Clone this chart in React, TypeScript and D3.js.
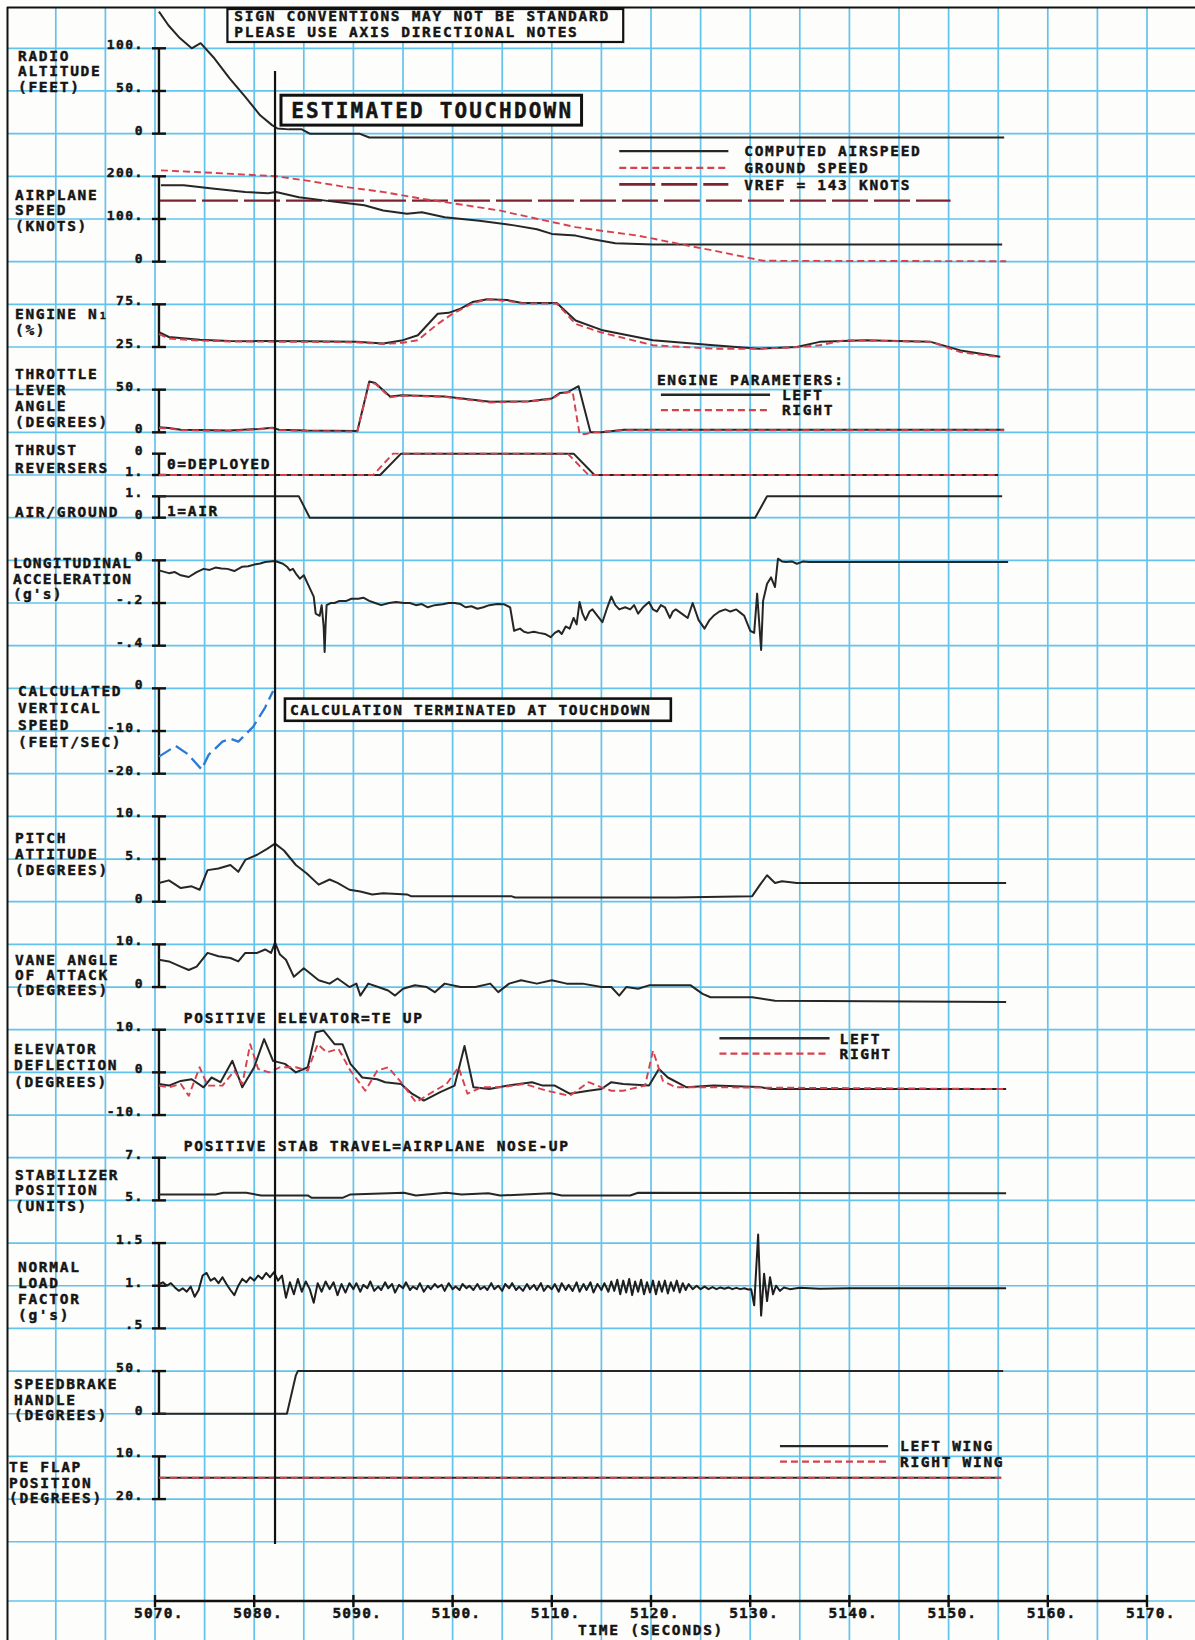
import * as d3 from 'd3';

type Pt = [number, number];
type Tick = [number, string];

const WIDTH = 1195;
const HEIGHT = 1640;
// chart paper rows: every axis tick sits on one of these blue lines
const ROW0 = 48.3;
const ROWH = 42.67;
const rowY = (r: number) => ROW0 + r * ROWH;
const AXIS_Y = 1601;

const xScale = d3.scaleLinear().domain([5070, 5170]).range([155, 1147]);
const AXIS_T = 5070.4;
const TOUCHDOWN_T = 5082.1;
const FONT = '"DejaVu Sans Mono", "Liberation Mono", monospace';

// ---- tick labels ----
const TIME_TICKS = [5070, 5080, 5090, 5100, 5110, 5120, 5130, 5140, 5150, 5160, 5170];
const ALT_TICKS: Tick[] = [[100, '100.'], [50, '50.'], [0, '0']];
const SPEED_TICKS: Tick[] = [[200, '200.'], [100, '100.'], [0, '0']];
const N1_TICKS: Tick[] = [[75, '75.'], [25, '25.']];
const TLA_TICKS: Tick[] = [[50, '50.'], [0, '0']];
const TR_TICKS: Tick[] = [[0, '0'], [1, '1.']];
const AG_TICKS: Tick[] = [[1, '1.'], [0, '0']];
const LA_TICKS: Tick[] = [[0, '0'], [-0.2, '-.2'], [-0.4, '-.4']];
const VS_TICKS: Tick[] = [[0, '0'], [-10, '-10.'], [-20, '-20.']];
const PITCH_TICKS: Tick[] = [[10, '10.'], [5, '5.'], [0, '0']];
const AOA_TICKS: Tick[] = [[10, '10.'], [0, '0']];
const ELEV_TICKS: Tick[] = [[10, '10.'], [0, '0'], [-10, '-10.']];
const STAB_TICKS: Tick[] = [[7, '7.'], [5, '5.']];
const NLF_TICKS: Tick[] = [[1.5, '1.5'], [1, '1.'], [0.5, '.5']];
const SB_TICKS: Tick[] = [[50, '50.'], [0, '0']];
const FLAP_TICKS: Tick[] = [[10, '10.'], [20, '20.']];

// ---- series (time s, value) ----
const RADIO_ALT: Pt[] = [[5070.4,143],[5071.35,127],[5072.5,112],[5073.7,100],[5074.6,106],[5076,88],[5077.5,65],[5079.1,43],[5080.6,21.5],[5081.8,10],[5082.35,6],[5083.5,5],[5084.8,5],[5085.6,0],[5090.6,0],[5091.6,-4.5],[5155.6,-4.5]];

const AIRSPEED: Pt[] = [[5070.6,179],[5072.9,179],[5076,171],[5079.1,163],[5081.4,160.5],[5082.2,163],[5084.5,151],[5087.2,143],[5089,138],[5091.1,132],[5093,120],[5095.4,112],[5096.9,116],[5099.2,104],[5102.7,96],[5106.2,85],[5108.5,76],[5110,65],[5112.4,61],[5114,53],[5116.4,43],[5120.2,40],[5155.4,40]];
const GROUND_SPEED: Pt[] = [[5070.6,214],[5076,208],[5082.2,200],[5085.3,190],[5089.2,175],[5093.1,163],[5097,147],[5100.8,134],[5104.7,120],[5108.6,100],[5112.4,81],[5114.8,73],[5118.7,61],[5122.5,43],[5126.3,26],[5131.3,2],[5155.8,1]];
const VREF: Pt[] = [[5070.5,143],[5150.2,143]];

const N1_LEFT: Pt[] = [[5070.4,42.5],[5071.4,36.7],[5074.5,33.6],[5077.5,32],[5085.3,31.6],[5090.3,31],[5093,29],[5095,33],[5096.5,38.7],[5098.5,64],[5099.6,65],[5100.8,70],[5102,77.7],[5103.5,81],[5105.5,80],[5107,76.6],[5110.5,76.6],[5112.4,56],[5115,45],[5120.2,33],[5126.3,27],[5130.9,23],[5134.7,25],[5137,31],[5141.6,33],[5148.2,31],[5151.2,21],[5155.2,13.5]];
const N1_RIGHT: Pt[] = [[5070.4,40],[5071.4,35],[5074.5,32.5],[5077.5,31.5],[5085.3,31],[5090.3,30.5],[5093,28.5],[5095,30],[5096.5,33],[5098.5,52],[5100,64],[5102,76],[5103.5,81],[5105.5,79],[5107,76],[5110.5,76],[5112.4,52],[5115,42],[5120.2,27],[5126.3,23],[5130.9,23],[5135,25],[5137,27],[5139.5,33],[5148.2,31],[5151.2,19],[5155.2,13]];

const TLA_LEFT: Pt[] = [[5070.4,6],[5071.4,5],[5072.6,3],[5077.5,2],[5080.5,4],[5081.8,5.5],[5082.5,3],[5085.3,2],[5090.4,1.5],[5091.6,59.6],[5092.2,57.7],[5093.7,42],[5094.9,43.5],[5099.2,42],[5103.8,35.7],[5107.7,36.5],[5110,39.6],[5110.8,46],[5111.6,47],[5112.7,54],[5113.9,0],[5115,0],[5117.3,3],[5155.6,3]];
const TLA_RIGHT: Pt[] = [[5070.4,5],[5071.4,4.5],[5072.6,2.5],[5077.5,1.5],[5080.5,3.5],[5081.8,5],[5082.5,2.5],[5085.3,1.5],[5090.4,1],[5091.6,58],[5092.2,57],[5093.7,41],[5094.9,43],[5099.2,41.5],[5103.8,35],[5107.7,36],[5110,39],[5110.8,45],[5111.6,47],[5112.1,47.5],[5112.8,-2],[5113.4,-2],[5114.2,0],[5117.3,2.5],[5155.6,2.5]];

const TR_LEFT: Pt[] = [[5070.4,1],[5092.7,1],[5094.8,0],[5112.2,0],[5114.3,1],[5155,1]];
const TR_RIGHT: Pt[] = [[5070.4,1],[5092,1],[5094,0],[5111.6,0],[5113.7,1],[5155,1]];

const AIR_GROUND: Pt[] = [[5070.4,1],[5084.5,1],[5085.6,0],[5130.5,0],[5131.7,1],[5155.4,1]];

const LONG_ACC: Pt[] = [[5070.4,-0.047],[5071.4,-0.06],[5072,-0.055],[5072.6,-0.07],[5073.4,-0.078],[5074.2,-0.055],[5074.9,-0.04],[5075.5,-0.045],[5076.1,-0.034],[5076.7,-0.038],[5077.3,-0.04],[5078,-0.05],[5078.8,-0.03],[5079.4,-0.028],[5080,-0.02],[5080.6,-0.015],[5081.1,-0.008],[5082.1,-0.003],[5082.9,-0.016],[5083.3,-0.03],[5083.6,-0.047],[5083.9,-0.04],[5084.2,-0.062],[5084.6,-0.086],[5085,-0.07],[5085.4,-0.11],[5086,-0.17],[5086.2,-0.25],[5086.6,-0.26],[5086.8,-0.21],[5087,-0.31],[5087.1,-0.43],[5087.2,-0.3],[5087.3,-0.21],[5087.7,-0.2],[5088.1,-0.2],[5088.6,-0.19],[5089.3,-0.19],[5089.8,-0.18],[5090.5,-0.18],[5091,-0.175],[5091.6,-0.19],[5092.2,-0.2],[5092.8,-0.21],[5093.6,-0.2],[5094.3,-0.195],[5095.1,-0.2],[5095.7,-0.2],[5096.3,-0.21],[5096.9,-0.205],[5097.5,-0.22],[5098.2,-0.21],[5099,-0.206],[5099.6,-0.2],[5100.2,-0.2],[5100.8,-0.205],[5101.3,-0.22],[5101.9,-0.215],[5102.5,-0.227],[5103.1,-0.22],[5103.7,-0.21],[5104.5,-0.205],[5105.2,-0.206],[5105.8,-0.22],[5106.2,-0.33],[5106.8,-0.32],[5107.2,-0.335],[5107.6,-0.34],[5108.2,-0.335],[5108.7,-0.34],[5109.3,-0.345],[5109.9,-0.36],[5110.3,-0.34],[5110.7,-0.33],[5111,-0.345],[5111.4,-0.31],[5111.8,-0.32],[5112.2,-0.27],[5112.5,-0.3],[5112.8,-0.195],[5113.1,-0.25],[5113.4,-0.28],[5113.8,-0.24],[5114.1,-0.23],[5114.6,-0.26],[5115.1,-0.29],[5115.6,-0.22],[5116,-0.17],[5116.4,-0.21],[5116.8,-0.23],[5117.4,-0.22],[5117.9,-0.23],[5118.3,-0.21],[5118.7,-0.25],[5119.2,-0.22],[5119.8,-0.195],[5120.2,-0.23],[5120.6,-0.24],[5121,-0.21],[5121.4,-0.22],[5121.9,-0.27],[5122.2,-0.24],[5122.5,-0.23],[5123.1,-0.25],[5123.7,-0.27],[5124.2,-0.2],[5124.8,-0.28],[5125.4,-0.32],[5125.9,-0.28],[5126.3,-0.26],[5126.9,-0.24],[5127.5,-0.23],[5128,-0.24],[5128.6,-0.23],[5129,-0.245],[5129.4,-0.26],[5130,-0.33],[5130.4,-0.34],[5130.7,-0.156],[5131.1,-0.42],[5131.3,-0.19],[5131.7,-0.11],[5132.1,-0.08],[5132.5,-0.125],[5132.8,0.008],[5133.2,-0.005],[5133.6,-0.008],[5134.2,-0.005],[5134.7,-0.016],[5135.3,-0.006],[5135.9,-0.008],[5137.8,-0.008],[5156,-0.008]];

const VERT_SPEED: Pt[] = [[5070.4,-16],[5072.1,-13.5],[5073.3,-15.4],[5074.7,-19],[5075.4,-15.6],[5076.8,-12.5],[5077.6,-11.8],[5078.4,-12.5],[5079.9,-9],[5081.1,-4.5],[5081.9,-0.6]];

const PITCH: Pt[] = [[5070.4,2.2],[5071.4,2.5],[5072.6,1.6],[5073.7,1.8],[5074.5,1.4],[5075.3,3.7],[5076.4,3.9],[5077.6,4.3],[5078.4,3.5],[5079.1,4.9],[5080.3,5.5],[5081.3,6.2],[5082.1,6.8],[5083,6],[5084.2,4.3],[5085.3,3.3],[5086.5,2],[5087.6,2.6],[5088.4,2.2],[5089.6,1.4],[5090.7,1.2],[5091.9,0.85],[5093,1],[5095.4,0.85],[5095.8,0.65],[5105.9,0.65],[5106.3,0.5],[5122.5,0.5],[5130.2,0.65],[5131,2],[5131.7,3.1],[5132.5,2.2],[5133.2,2.4],[5134.7,2.2],[5155.8,2.2]];

const AOA: Pt[] = [[5070.4,6.4],[5071.4,6],[5072.6,4.8],[5073.4,4],[5074.2,4.8],[5075.3,8],[5076.4,7.2],[5077.6,6.8],[5078.4,6],[5079.1,8],[5080.3,8],[5081.1,8.8],[5081.7,8],[5082.1,10.4],[5082.6,7.6],[5083.2,6.4],[5084,2.4],[5085,4.4],[5086.5,1.6],[5087.6,0.8],[5088.4,2],[5089.6,0],[5090.3,0.8],[5090.7,-2],[5091.5,0.8],[5092.5,0],[5093.5,-0.8],[5094.2,-2],[5095,-0.4],[5096.2,0.4],[5097.4,0],[5098.2,-1.2],[5099.2,0.8],[5100.8,0],[5102.3,0],[5103.8,0.8],[5104.6,-1.2],[5105.7,0.8],[5106.9,1.6],[5108.5,0.8],[5110,1.6],[5111.5,0.8],[5113.1,0.8],[5115,0],[5116,0],[5116.8,-2],[5117.5,0],[5118.7,-0.4],[5119.8,0.4],[5124,0.4],[5125.2,-1.6],[5126,-2.4],[5130.2,-2.4],[5132.5,-3.2],[5155.8,-3.5]];

const ELEV_LEFT: Pt[] = [[5070.4,-2.7],[5071.4,-3.1],[5072.6,-2],[5073.7,-1.6],[5074.9,-3.5],[5075.7,-1.2],[5076.6,-2.3],[5077.8,2.7],[5078.8,-3.5],[5080,1.2],[5081,7.8],[5081.9,2.7],[5083.1,2],[5084.2,0],[5085.4,1.2],[5086.2,9.4],[5087,9.8],[5088.1,6.6],[5088.9,6.6],[5089.7,2],[5090.9,-1.2],[5092.4,-1.6],[5093.2,-2.3],[5094.8,-2.7],[5095.9,-5],[5097.1,-6.6],[5098.7,-4.7],[5100.2,-3.1],[5101.2,6.2],[5102.1,-3.5],[5103.7,-3.9],[5105.6,-3.1],[5108,-2.3],[5109.1,-3.1],[5110.3,-3.1],[5111.8,-5],[5113.7,-4.3],[5115,-3.9],[5116,-2.3],[5117.2,-2.7],[5119.8,-3.1],[5120.8,0.8],[5121.7,-1.2],[5123.6,-3.5],[5126.3,-3.1],[5130.9,-3.4],[5132.1,-3.9],[5155.8,-3.9]];
const ELEV_RIGHT: Pt[] = [[5070.4,-3.1],[5071.4,-3.5],[5072.6,-2.7],[5073.4,-5.5],[5074.5,1.2],[5075.3,-3.1],[5076.8,-3.1],[5078,0.4],[5078.8,-2.7],[5079.6,6.6],[5080.4,0.8],[5081.5,0],[5082.6,1.2],[5084.2,1.2],[5085.4,0.4],[5086.4,6.6],[5087.3,4.7],[5088.5,5.5],[5089.7,0.4],[5091.2,-4.3],[5092.4,0.4],[5093.5,1.2],[5094.8,-2.3],[5096.3,-7],[5097.9,-4.7],[5099.4,-2.7],[5100.6,1.2],[5101.5,-5],[5102.9,-3.5],[5104.9,-3.5],[5107.2,-2.7],[5109.5,-4.3],[5111.8,-5.5],[5113.7,-2.3],[5115,-3.5],[5116,-4.3],[5117.2,-4.3],[5119.4,-3.1],[5120.2,5.1],[5121.2,-2],[5122.5,-3.5],[5126.3,-3.5],[5155.8,-3.9]];

const STAB: Pt[] = [[5070.4,5.28],[5076.1,5.28],[5076.9,5.36],[5079.2,5.36],[5080.7,5.23],[5085.4,5.23],[5085.8,5.12],[5088.9,5.12],[5089.7,5.28],[5095.1,5.36],[5096.3,5.23],[5099.4,5.36],[5100.9,5.28],[5103.6,5.33],[5104.8,5.23],[5109.9,5.33],[5111,5.23],[5117.9,5.23],[5118.7,5.36],[5155.8,5.33]];

const NLF: Pt[] = [[5070.4,1.02],[5070.8,1.04],[5071.2,1.0],[5071.6,1.03],[5072,0.98],[5072.4,0.94],[5072.8,0.97],[5073.2,0.93],[5073.6,0.99],[5074,0.87],[5074.4,0.95],[5074.8,1.12],[5075.2,1.15],[5075.6,1.06],[5076,1.09],[5076.4,1.03],[5076.8,1.1],[5077.2,1.02],[5077.6,0.95],[5078,0.89],[5078.4,1.0],[5078.8,1.08],[5079.2,1.04],[5079.6,1.1],[5080,1.06],[5080.4,1.12],[5080.8,1.08],[5081.2,1.15],[5081.6,1.1],[5082,1.16],
  [5082.4,1.06],[5082.8,1.12],[5083.2,0.86],[5083.6,1.04],[5084,0.9],[5084.4,1.08],[5084.8,0.93],[5085.2,1.05],[5085.6,0.96],[5086,0.8],[5086.4,1.03],[5086.8,0.93],[5087.2,1.05],[5087.6,0.96],[5088,1.04],[5088.4,0.89],[5088.8,1.02],[5089.2,0.92],[5089.6,1.03],
  [5090,0.96],[5090.3,1.03],[5090.7,0.93],[5091,1.01],[5091.4,0.97],[5091.7,1.05],[5092.1,0.94],[5092.5,0.99],[5092.8,0.95],[5093.2,1.04],[5093.5,0.97],[5093.9,1.02],[5094.2,0.92],[5094.6,1.01],[5095,0.97],[5095.3,1.04],[5095.7,0.95],[5096,0.99],[5096.4,0.96],[5096.7,1.03],[5097.1,0.93],[5097.5,1.0],[5097.8,0.96],[5098.2,1.02],[5098.5,0.98],[5098.9,1.01],[5099.2,0.94],[5099.6,1.03],[5100,0.96],[5100.3,0.99],[5100.7,0.95],[5101,1.02],[5101.4,0.97],[5101.7,1.0],[5102.1,0.95],[5102.5,1.02],[5102.8,0.96],[5103.2,0.99],[5103.5,0.95],[5103.9,1.03],[5104.2,0.96],[5104.6,1.0],[5105,0.94],[5105.3,1.02],[5105.7,0.97],[5106,1.03],[5106.4,0.95],[5106.7,0.99],[5107.1,0.94],[5107.5,1.02],[5107.8,0.96],[5108.2,1.01],[5108.5,0.95],[5108.9,1.03],[5109.2,0.94],[5109.6,1.0],[5110,0.96],[5110.3,1.02],[5110.7,0.93],[5111,1.03],[5111.4,0.95],[5111.7,1.01],[5112.1,0.94],[5112.5,1.04],[5112.8,0.93],[5113.2,1.02],[5113.5,0.95],[5113.9,1.04],[5114.2,0.92],[5114.6,1.02],[5115,0.95],[5115.3,1.03],[5115.7,0.93],[5116,1.05],[5116.3,0.94],[5116.6,1.07],[5116.9,0.9],[5117.2,1.06],[5117.5,0.92],[5117.8,1.08],[5118.1,0.89],[5118.4,1.05],[5118.7,0.93],[5119,1.07],[5119.3,0.9],[5119.6,1.04],[5119.9,0.92],[5120.2,1.06],[5120.5,0.9],[5120.8,1.05],[5121.1,0.93],[5121.4,1.06],[5121.7,0.91],[5122,1.04],[5122.3,0.94],[5122.6,1.06],[5122.9,0.92],[5123.2,1.03],[5123.5,0.95],[5123.8,1.02],[5124.2,0.96],[5124.6,1.0],[5125,0.96],[5125.4,0.99],[5125.8,0.96],[5126.2,0.985],[5126.6,0.96],[5127,0.98],[5127.4,0.965],[5127.8,0.98],[5128.2,0.96],[5128.6,0.975],[5129,0.96],[5129.4,0.97],[5129.8,0.955],[5130.1,0.96],[5130.4,0.77],[5130.8,1.6],[5131.1,0.65],[5131.4,1.14],[5131.7,0.82],[5132,1.1],[5132.3,0.9],[5132.6,1.0],[5133,0.94],[5133.4,0.98],[5134,0.96],[5135,0.975],[5137,0.965],[5140,0.97],[5155.8,0.97]];

const SPEEDBRAKE: Pt[] = [[5070.4,0],[5083.3,0],[5084.2,45],[5084.4,50],[5155.5,50]];
const FLAP_LEFT: Pt[] = [[5070.4,15],[5155.3,15]];
const FLAP_RIGHT: Pt[] = [[5070.4,15],[5155.3,15]];

// ---- panel layout (rows on the chart paper) ----
type Panel = { id: string; labels: string[]; labelRow: number; step?: number; labelX?: number; rTop: number; rBot: number; vTop: number; vBot: number; ticks: Tick[] };

const PANELS: Panel[] = [
  { id: 'alt', labels: ['RADIO', 'ALTITUDE', '(FEET)'], labelRow: 0.17, rTop: 0, rBot: 2, vTop: 100, vBot: 0, ticks: ALT_TICKS },
  { id: 'spd', labels: ['AIRPLANE', 'SPEED', '(KNOTS)'], labelRow: 3.43, labelX: 15, rTop: 3, rBot: 5, vTop: 200, vBot: 0, ticks: SPEED_TICKS },
  { id: 'n1', labels: ['ENGINE N\u2081', '(%)'], labelRow: 6.23, labelX: 15, rTop: 6, rBot: 7, vTop: 75, vBot: 25, ticks: N1_TICKS },
  { id: 'tla', labels: ['THROTTLE', 'LEVER', 'ANGLE', '(DEGREES)'], labelRow: 7.62, step: 0.38, labelX: 15, rTop: 8, rBot: 9, vTop: 50, vBot: 0, ticks: TLA_TICKS },
  { id: 'tr', labels: ['THRUST', 'REVERSERS'], labelRow: 9.4, step: 0.42, labelX: 15, rTop: 9.5, rBot: 10, vTop: 0, vBot: 1, ticks: TR_TICKS },
  { id: 'ag', labels: ['AIR/GROUND'], labelRow: 10.85, labelX: 15, rTop: 10.5, rBot: 11, vTop: 1, vBot: 0, ticks: AG_TICKS },
  { id: 'la', labels: ['LONGITUDINAL', 'ACCELERATION', "(g's)"], labelRow: 12.05, step: 0.37, labelX: 13, rTop: 12, rBot: 14, vTop: 0, vBot: -0.4, ticks: LA_TICKS },
  { id: 'vs', labels: ['CALCULATED', 'VERTICAL', 'SPEED', '(FEET/SEC)'], labelRow: 15.06, step: 0.4, rTop: 15, rBot: 17, vTop: 0, vBot: -20, ticks: VS_TICKS },
  { id: 'pitch', labels: ['PITCH', 'ATTITUDE', '(DEGREES)'], labelRow: 18.5, step: 0.38, labelX: 15, rTop: 18, rBot: 20, vTop: 10, vBot: 0, ticks: PITCH_TICKS },
  { id: 'aoa', labels: ['VANE ANGLE', 'OF ATTACK', '(DEGREES)'], labelRow: 21.35, labelX: 15, rTop: 21, rBot: 22, vTop: 10, vBot: 0, ticks: AOA_TICKS },
  { id: 'elev', labels: ['ELEVATOR', 'DEFLECTION', '(DEGREES)'], labelRow: 23.45, step: 0.38, labelX: 14, rTop: 23, rBot: 25, vTop: 10, vBot: -10, ticks: ELEV_TICKS },
  { id: 'stab', labels: ['STABILIZER', 'POSITION', '(UNITS)'], labelRow: 26.4, labelX: 15, rTop: 26, rBot: 27, vTop: 7, vBot: 5, ticks: STAB_TICKS },
  { id: 'nlf', labels: ['NORMAL', 'LOAD', 'FACTOR', "(g's)"], labelRow: 28.55, step: 0.38, rTop: 28, rBot: 30, vTop: 1.5, vBot: 0.5, ticks: NLF_TICKS },
  { id: 'sb', labels: ['SPEEDBRAKE', 'HANDLE', '(DEGREES)'], labelRow: 31.3, labelX: 14, rTop: 31, rBot: 32, vTop: 50, vBot: 0, ticks: SB_TICKS },
  { id: 'flap', labels: ['TE FLAP', 'POSITION', '(DEGREES)'], labelRow: 33.25, labelX: 9, rTop: 33, rBot: 34, vTop: 10, vBot: 20, ticks: FLAP_TICKS },
];

type Style = { stroke: string; width: number; dash?: string };
const BLACK: Style = { stroke: '#262626', width: 2 };
const RED: Style = { stroke: '#d8404e', width: 1.9, dash: '7,4' };
const MAROON: Style = { stroke: '#7d2330', width: 2.3, dash: '36,6' };
const BLUE: Style = { stroke: '#2d79d6', width: 2.3, dash: '14,6' };

const SERIES: { panel: string; data: Pt[]; style: Style }[] = [
  { panel: 'alt', data: RADIO_ALT, style: BLACK },
  { panel: 'spd', data: VREF, style: MAROON },
  { panel: 'spd', data: AIRSPEED, style: BLACK },
  { panel: 'spd', data: GROUND_SPEED, style: RED },
  { panel: 'n1', data: N1_LEFT, style: BLACK },
  { panel: 'n1', data: N1_RIGHT, style: RED },
  { panel: 'tla', data: TLA_LEFT, style: BLACK },
  { panel: 'tla', data: TLA_RIGHT, style: RED },
  { panel: 'tr', data: TR_LEFT, style: BLACK },
  { panel: 'tr', data: TR_RIGHT, style: RED },
  { panel: 'ag', data: AIR_GROUND, style: BLACK },
  { panel: 'la', data: LONG_ACC, style: BLACK },
  { panel: 'vs', data: VERT_SPEED, style: BLUE },
  { panel: 'pitch', data: PITCH, style: BLACK },
  { panel: 'aoa', data: AOA, style: BLACK },
  { panel: 'elev', data: ELEV_LEFT, style: BLACK },
  { panel: 'elev', data: ELEV_RIGHT, style: RED },
  { panel: 'stab', data: STAB, style: BLACK },
  { panel: 'nlf', data: NLF, style: { stroke: '#1e1e1e', width: 2 } },
  { panel: 'sb', data: SPEEDBRAKE, style: BLACK },
  { panel: 'flap', data: FLAP_LEFT, style: BLACK },
  { panel: 'flap', data: FLAP_RIGHT, style: RED },
];

// legend entries: line on a paper row, from t0 to t1, text starting at textT
const LEGENDS: { row: number; t0: number; t1: number; textT: number; text: string; style: Style }[] = [
  { row: 2.41, t0: 5116.8, t1: 5127.8, textT: 5129.4, text: 'COMPUTED AIRSPEED', style: BLACK },
  { row: 2.8, t0: 5116.8, t1: 5127.8, textT: 5129.4, text: 'GROUND SPEED', style: RED },
  { row: 3.19, t0: 5116.8, t1: 5127.8, textT: 5129.4, text: 'VREF = 143 KNOTS', style: MAROON },
  { row: 8.12, t0: 5121, t1: 5132, textT: 5133.2, text: 'LEFT', style: BLACK },
  { row: 8.48, t0: 5121, t1: 5132, textT: 5133.2, text: 'RIGHT', style: RED },
  { row: 23.2, t0: 5126.9, t1: 5138, textT: 5139, text: 'LEFT', style: BLACK },
  { row: 23.56, t0: 5126.9, t1: 5138, textT: 5139, text: 'RIGHT', style: RED },
  { row: 32.76, t0: 5133, t1: 5143.9, textT: 5145.1, text: 'LEFT WING', style: BLACK },
  { row: 33.12, t0: 5133, t1: 5143.9, textT: 5145.1, text: 'RIGHT WING', style: RED },
];

const NOTES: { t: number; row: number; text: string }[] = [
  { t: 5120.6, row: 7.76, text: 'ENGINE PARAMETERS:' },
  { t: 5071.2, row: 9.73, text: '0=DEPLOYED' },
  { t: 5071.2, row: 10.83, text: '1=AIR' },
  { t: 5072.9, row: 22.71, text: 'POSITIVE ELEVATOR=TE UP' },
  { t: 5072.9, row: 25.72, text: 'POSITIVE STAB TRAVEL=AIRPLANE NOSE-UP' },
];

const LABEL_SIZE = 14.5;
const LABEL_LS = 1.7;
const CAP = 5.3; // half cap height of the label font
const STEP = 0.36;

function Label({ x, y, text, size = LABEL_SIZE, ls = LABEL_LS, anchor = 'start' }: { x: number; y: number; text: string; size?: number; ls?: number; anchor?: string }) {
  // plotter lettering is heavy: a thin stroke on top of the bold face
  return (
    <text x={x} y={y} fontFamily={FONT} fontWeight="bold" fontSize={size} letterSpacing={ls} textAnchor={anchor} fill="#151515" stroke="#151515" strokeWidth={0.45}>
      {text}
    </text>
  );
}

export default function App() {
  const axisX = xScale(AXIS_T);
  const yScales: Record<string, d3.ScaleLinear<number, number>> = {};
  PANELS.forEach((p) => {
    yScales[p.id] = d3.scaleLinear().domain([p.vTop, p.vBot]).range([rowY(p.rTop), rowY(p.rBot)]);
  });

  const gridX = d3.range(5060, 5176, 5);
  const gridY = d3.range(0, 36).map(rowY).concat([AXIS_Y]);
  const tdX = xScale(TOUCHDOWN_T);

  return (
    <svg width={WIDTH} height={HEIGHT} style={{ position: 'absolute', left: 0, top: 0, background: '#fdfdfb' }}>
      <rect x={0} y={0} width={WIDTH} height={HEIGHT} fill="#fdfdfb" />
      {/* chart paper */}
      <g stroke="#62c4ec" strokeWidth={1.7}>
        {gridX.map((t) => (
          <line key={'gx' + t} x1={xScale(t)} x2={xScale(t)} y1={7} y2={HEIGHT} />
        ))}
        {gridY.map((gy, i) => (
          <line key={'gy' + i} x1={7} x2={WIDTH} y1={gy} y2={gy} />
        ))}
      </g>
      <line x1={7.5} x2={7.5} y1={7} y2={HEIGHT} stroke="#111" strokeWidth={2} />
      <line x1={7} x2={WIDTH} y1={7.5} y2={7.5} stroke="#111" strokeWidth={2} />

      {/* panel axes and labels */}
      {PANELS.map((p) => {
        const y = yScales[p.id];
        return (
          <g key={p.id}>
            <line x1={axisX} x2={axisX} y1={rowY(p.rTop)} y2={rowY(p.rBot)} stroke="#111" strokeWidth={2.4} />
            {p.ticks.map(([v, lab]) => (
              <g key={lab}>
                <line x1={axisX - 7} x2={axisX + 7} y1={y(v)} y2={y(v)} stroke="#111" strokeWidth={2.4} />
                <Label x={axisX - 15} y={y(v) + 1} text={lab} size={13} ls={1.5} anchor="end" />
              </g>
            ))}
            {p.labels.map((l, i) => (
              <Label
                key={l + i}
                x={p.labelX ?? 18}
                y={rowY(p.labelRow + i * (p.step ?? STEP)) + CAP}
                text={l}
                ls={p.id === 'la' ? 1.2 : LABEL_LS}
              />
            ))}
          </g>
        );
      })}

      {/* data */}
      {SERIES.map((s, i) => {
        const y = yScales[s.panel];
        const path = d3
          .line<Pt>()
          .x((d) => xScale(d[0]))
          .y((d) => y(d[1]))(s.data);
        return (
          <path key={i} d={path ?? ''} fill="none" stroke={s.style.stroke} strokeWidth={s.style.width} strokeDasharray={s.style.dash} strokeLinejoin="round" />
        );
      })}

      {/* legends */}
      {LEGENDS.map((l, i) => (
        <g key={'lg' + i}>
          <line x1={xScale(l.t0)} x2={xScale(l.t1)} y1={rowY(l.row)} y2={rowY(l.row)} stroke={l.style.stroke} strokeWidth={l.style.width + 0.4} strokeDasharray={l.style.dash} />
          <Label x={xScale(l.textT)} y={rowY(l.row) + CAP} text={l.text} />
        </g>
      ))}
      {NOTES.map((n, i) => (
        <Label key={'nt' + i} x={xScale(n.t)} y={rowY(n.row) + CAP} text={n.text} />
      ))}

      {/* boxed notes */}
      <rect x={xScale(5077.3)} y={9} width={xScale(5117.2) - xScale(5077.3)} height={33} fill="#fdfdfb" stroke="#111" strokeWidth={2.2} />
      <Label x={xScale(5078)} y={21} text="SIGN CONVENTIONS MAY NOT BE STANDARD" size={14.5} ls={1.7} />
      <Label x={xScale(5078)} y={37} text="PLEASE USE AXIS DIRECTIONAL NOTES" size={14.5} ls={1.7} />

      <rect x={xScale(5082.7)} y={rowY(1.1)} width={xScale(5113) - xScale(5082.7)} height={rowY(1.8) - rowY(1.1)} fill="#fdfdfb" stroke="#111" strokeWidth={3} />
      <Label x={(xScale(5082.7) + xScale(5113)) / 2 + 1} y={(rowY(1.1) + rowY(1.8)) / 2 + 7.5} text="ESTIMATED TOUCHDOWN" size={21} ls={2.2} anchor="middle" />

      <rect x={xScale(5083.1)} y={rowY(15.24)} width={xScale(5122) - xScale(5083.1)} height={rowY(15.76) - rowY(15.24)} fill="#fdfdfb" stroke="#111" strokeWidth={2.6} />
      <Label x={xScale(5083.6)} y={rowY(15.5) + 5.2} text="CALCULATION TERMINATED AT TOUCHDOWN" size={14.5} ls={1.6} />

      {/* touchdown marker */}
      <line x1={tdX} x2={tdX} y1={rowY(0.53)} y2={rowY(35.05)} stroke="#111" strokeWidth={2.2} />

      {/* time axis */}
      <line x1={xScale(5070)} x2={xScale(5170)} y1={AXIS_Y} y2={AXIS_Y} stroke="#111" strokeWidth={2.6} />
      {TIME_TICKS.map((t) => (
        <g key={'tt' + t}>
          <line x1={xScale(t)} x2={xScale(t)} y1={AXIS_Y - 6} y2={AXIS_Y + 6} stroke="#111" strokeWidth={2.4} />
          <Label x={xScale(t) - 21} y={AXIS_Y + 17} text={t + '.'} size={14.5} ls={1.2} />
        </g>
      ))}
      <Label x={xScale(5120)} y={AXIS_Y + 34} text="TIME (SECONDS)" anchor="middle" />
    </svg>
  );
}
